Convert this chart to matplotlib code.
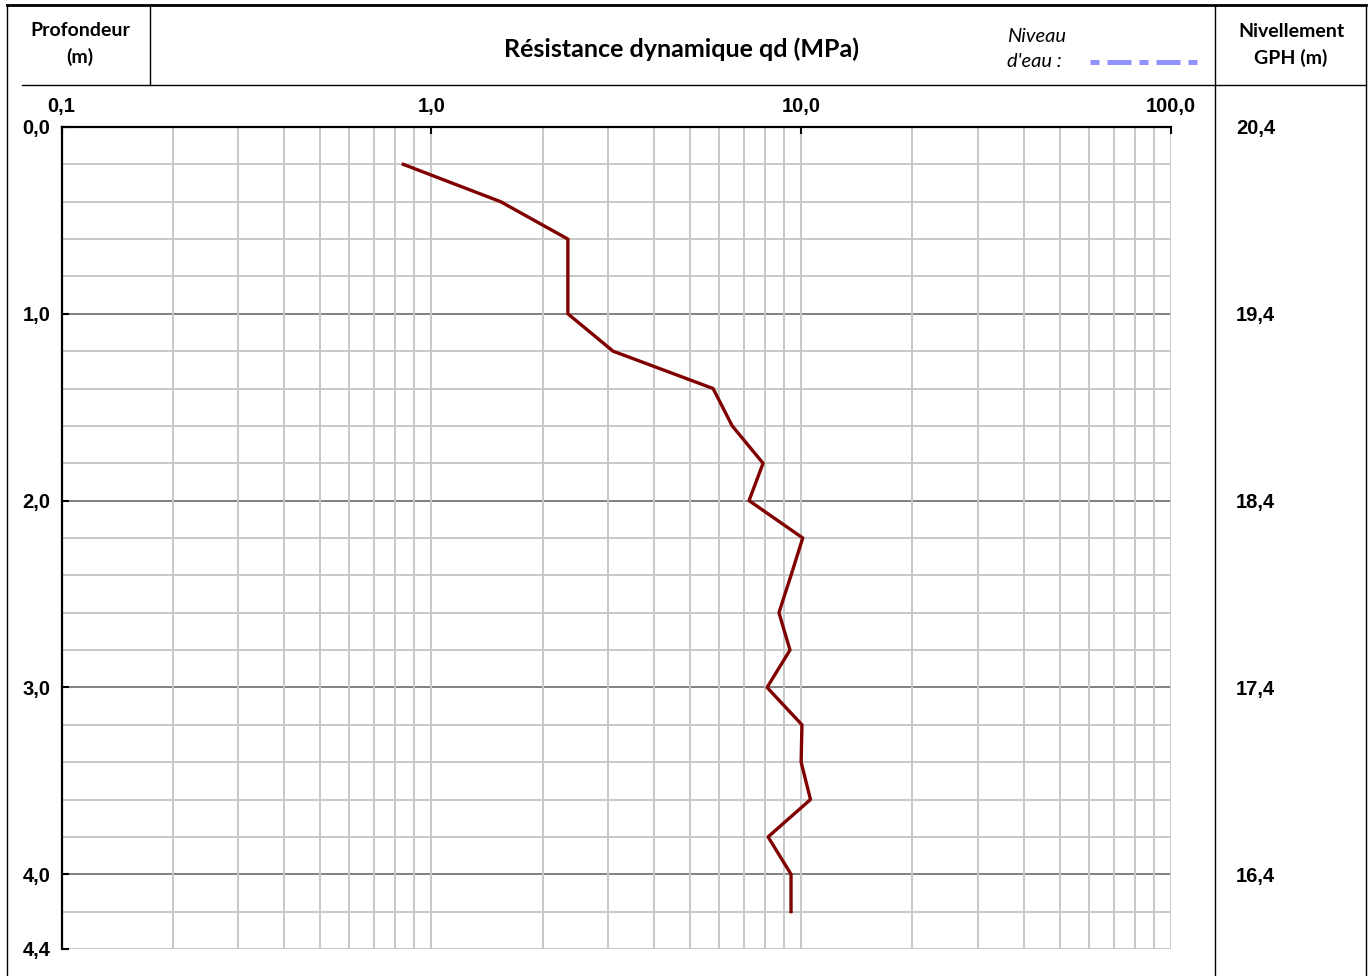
import matplotlib.pyplot as plt
import numpy as np
from matplotlib.ticker import LogLocator, NullFormatter
from matplotlib.transforms import blended_transform_factory
from matplotlib.lines import Line2D

plt.rcParams['font.family'] = ['Liberation Sans', 'DejaVu Sans']

# profondeur (m) et résistance dynamique qd (MPa)
profondeur = [0.2, 0.4, 0.6, 0.8, 1.0, 1.2, 1.4, 1.6, 1.8, 2.0, 2.2,
              2.4, 2.6, 2.8, 3.0, 3.2, 3.4, 3.6, 3.8, 4.0, 4.2]
qd = [0.84, 1.54, 2.34, 2.34, 2.34, 3.10, 5.78, 6.51, 7.89, 7.23, 10.1,
      9.39, 8.71, 9.33, 8.09, 10.05, 10.0, 10.6, 8.14, 9.39, 9.39]

y_ticks = [0.0, 1.0, 2.0, 3.0, 4.0, 4.4]
y_labels = ["0,0", "1,0", "2,0", "3,0", "4,0", "4,4"]
x_ticks = [0.1, 1, 10, 100]
x_labels = ["0,1", "1,0", "10,0", "100,0"]
niv_depth = [0, 1, 2, 3, 4]
niv_labels = ["20,4", "19,4", "18,4", "17,4", "16,4"]

fig = plt.figure(figsize=(13.7, 9.76), dpi=100)
ax = fig.add_axes([0.0449, 0.0277, 0.8098, 0.8422])

ax.set_xscale("log")
ax.set_xlim(0.1, 100)
ax.set_ylim(4.4, 0)

# grille
ax.xaxis.set_minor_locator(LogLocator(base=10, subs=np.arange(2, 10)))
ax.xaxis.set_minor_formatter(NullFormatter())
ax.grid(True, which="both", axis="x", color="#c8c8c8", lw=1.4, zorder=0)
for d in np.arange(0.2, 4.4, 0.2):
    if abs(d - round(d)) < 1e-6:
        ax.axhline(d, color="#808080", lw=1.4, zorder=1)
    else:
        ax.axhline(d, color="#c8c8c8", lw=1.4, zorder=0)
ax.axhline(4.4, color="#c8c8c8", lw=1.4, zorder=0)

ax.plot(qd, profondeur, color="#800000", lw=2.4, zorder=3)

ax.set_yticks(y_ticks)
ax.set_yticklabels(y_labels, fontweight="bold", family="Liberation Sans")
ax.set_xticks(x_ticks)
ax.set_xticklabels(x_labels, fontweight="bold", family="Liberation Sans")
ax.xaxis.tick_top()
ax.tick_params(axis="both", which="major", direction="in", length=5, width=1.5,
               labelsize=14.5, colors="black")
ax.tick_params(axis="x", which="major", pad=8)
ax.tick_params(axis="y", which="major", pad=8)
ax.tick_params(axis="x", which="minor", length=0)

for s in ["right", "bottom"]:
    ax.spines[s].set_visible(False)
for s in ["left", "top"]:
    ax.spines[s].set_linewidth(1.6)
    ax.spines[s].set_color("black")

# nivellement
tr = blended_transform_factory(fig.transFigure, ax.transData)
for d, t in zip(niv_depth, niv_labels):
    ax.text(1236 / 1370, d, t, transform=tr, ha="left", va="center_baseline",
            fontsize=14.5, fontweight="bold", family="Liberation Sans")

# cadre de l'en-tête
def fx(px):
    return px / 1370

def fy(py):
    return 1 - py / 976

fig.add_artist(Line2D([fx(7), fx(1366)], [fy(5), fy(5)], color="black", lw=2))
fig.add_artist(Line2D([fx(7), fx(7)], [fy(5), fy(976)], color="black", lw=1))
fig.add_artist(Line2D([fx(1366), fx(1366)], [fy(5), fy(976)], color="black", lw=1))
fig.add_artist(Line2D([fx(1215), fx(1215)], [fy(5), fy(976)], color="black", lw=1))
fig.add_artist(Line2D([fx(150), fx(150)], [fy(5), fy(85)], color="black", lw=1))
fig.add_artist(Line2D([fx(22), fx(1366)], [fy(85), fy(85)], color="black", lw=1))

fig.text(fx(80), fy(44), "Profondeur\n(m)", ha="center", va="center",
         fontsize=14, fontweight="bold", family="Lato", linespacing=1.6)
fig.text(fx(682), fy(49), "Résistance dynamique qd (MPa)", ha="center", va="center",
         fontsize=18, fontweight="bold", family="Lato")
fig.text(fx(1007), fy(49), "Niveau\nd'eau :", ha="left", va="center",
         fontsize=14.5, style="italic", family="Lato", linespacing=1.6)
fig.add_artist(Line2D([fx(1090), fx(1197)], [fy(62), fy(62)], color="#9393ff", lw=3.6,
                      dashes=(1.8, 1.6, 4.8, 1.6)))
fig.text(fx(1291), fy(45), "Nivellement\nGPH (m)", ha="center", va="center",
         fontsize=14, fontweight="bold", family="Lato", linespacing=1.6)

fig.savefig("out.png", dpi=100)
